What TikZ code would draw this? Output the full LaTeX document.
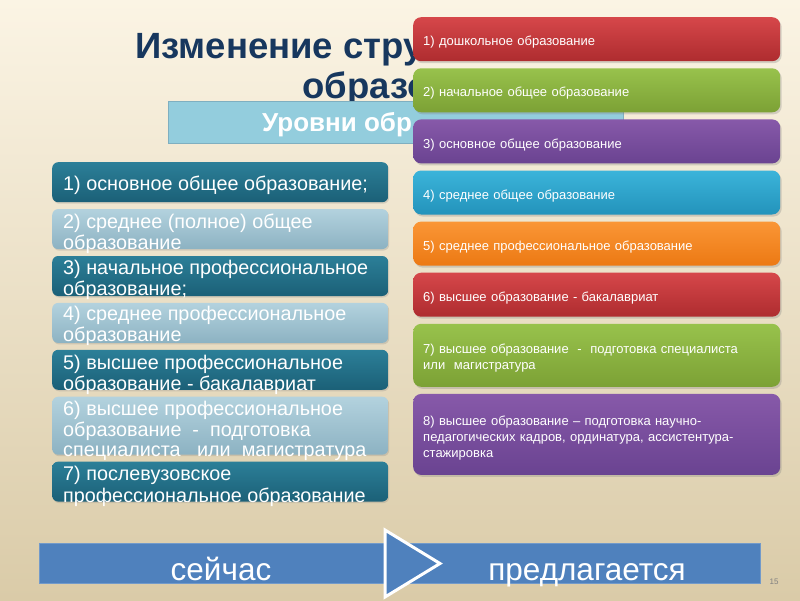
\documentclass[tikz,border=0pt]{standalone}
\usepackage{fontspec}
\setmainfont{Liberation Sans}
\usetikzlibrary{positioning,shadows}

\definecolor{bgtop}{HTML}{FBF4E4}
\definecolor{bgbot}{HTML}{DACBA8}
\definecolor{titleblue}{HTML}{17375E}
\definecolor{barblue}{HTML}{93CDDD}
\definecolor{baredge}{HTML}{7FAFC0}
\definecolor{tealtop}{HTML}{2C7F98}
\definecolor{tealbot}{HTML}{1B6077}
\definecolor{paletop}{HTML}{B3D2DE}
\definecolor{palebot}{HTML}{8CB2C2}
\definecolor{redtop}{HTML}{D6474A}
\definecolor{redbot}{HTML}{AE2C2F}
\definecolor{greentop}{HTML}{98C24C}
\definecolor{greenbot}{HTML}{7CA135}
\definecolor{violettop}{HTML}{8759A9}
\definecolor{violetbot}{HTML}{6A4391}
\definecolor{cyantop}{HTML}{3BB4DA}
\definecolor{cyanbot}{HTML}{2393BB}
\definecolor{orangetop}{HTML}{FA9636}
\definecolor{orangebot}{HTML}{EC7913}
\definecolor{footblue}{HTML}{4F81BD}

\tikzset{
  levelbox/.style={minimum width=336pt, minimum height=40pt, inner sep=0pt,
    rounded corners=6pt, drop shadow={shadow xshift=1pt, shadow yshift=-1.5pt, opacity=.25}},
  darklevel/.style={levelbox, top color=tealtop, bottom color=tealbot},
  lightlevel/.style={levelbox, top color=paletop, bottom color=palebot},
  leveltext/.style={inner sep=0pt, text=white, align=left,
    font=\fontsize{19.8}{19.5}\selectfont},
  newbox/.style={minimum width=367pt, minimum height=44pt, text width=347pt,
    inner xsep=10pt, inner ysep=0pt, align=left, rounded corners=8pt, text=white,
    font=\fontsize{13}{16}\selectfont, execute at begin node={\rule{0pt}{16pt}},
    drop shadow={shadow xshift=1.5pt, shadow yshift=-2pt, opacity=.3}},
  redbox/.style={newbox, top color=redtop, bottom color=redbot},
  greenbox/.style={newbox, top color=greentop, bottom color=greenbot},
  violetbox/.style={newbox, top color=violettop, bottom color=violetbot},
  cyanbox/.style={newbox, top color=cyantop, bottom color=cyanbot},
  orangebox/.style={newbox, top color=orangetop, bottom color=orangebot},
  titletext/.style={anchor=base west, inner sep=0pt, text=titleblue,
    font=\bfseries\fontsize{36.5}{40}\selectfont},
}

\begin{document}
\begin{tikzpicture}[x=1pt, y=-1pt]
\useasboundingbox (0,0) rectangle (800,600);
\shade[top color=bgtop, bottom color=bgbot] (0,0) rectangle (800,600);

% title and the bar under it (the right column hides their ends)
\node[titletext] (title1) at (135,58) {Изменение стру};
\node[titletext] (title2) at (302,98) {образо};
\node[fill=barblue, draw=baredge, minimum width=455pt, minimum height=42pt, inner sep=0pt] (levels) at (395.5,122) {};
\node[anchor=base west, inner sep=0pt, text=white, font=\bfseries\fontsize{26}{28}\selectfont] (levelst) at (262,131) {Уровни обр};

% now: left column
\node[darklevel, anchor=north west] (l1) at (52,162) {};
\node[lightlevel, below=6.5pt of l1] (l2) {};
\node[darklevel, below=6.5pt of l2] (l3) {};
\node[lightlevel, below=6.5pt of l3] (l4) {};
\node[darklevel, below=6.5pt of l4] (l5) {};
\node[lightlevel, minimum height=58pt, below=6.5pt of l5] (l6) {};
\node[darklevel, below=6.5pt of l6] (l7) {};

\node[leveltext, below right=13.4pt and 11pt of l1.north west] (l1t) {\strut 1) основное общее образование;};
\node[leveltext, below right=5pt and 11pt of l2.north west] (l2t) {\strut 2) среднее (полное) общее\\образование};
\node[leveltext, below right=4pt and 11pt of l3.north west] (l3t) {\strut 3) начальное профессиональное\\образование;};
\node[leveltext, below right=3pt and 11pt of l4.north west] (l4t) {\strut 4) среднее профессиональное\\образование};
\node[leveltext, below right=5pt and 11pt of l5.north west] (l5t) {\strut 5) высшее профессиональное\\образование - бакалавриат};
\node[leveltext, below right=4.5pt and 11pt of l6.north west] (l6t) {\strut 6) высшее профессиональное\\образование~~-~~подготовка\\специалиста~~~или~~магистратура};
\node[leveltext, below right=5pt and 11pt of l7.north west] (l7t) {\strut 7) послевузовское\\профессиональное образование};

% proposed: right column
\node[redbox, anchor=north west] (r1) at (413,17) {1) дошкольное образование};
\node[greenbox, below=6.7pt of r1] (r2) {2) начальное общее образование};
\node[violetbox, below=6.7pt of r2] (r3) {3) основное общее образование};
\node[cyanbox, below=6.7pt of r3] (r4) {4) среднее общее образование};
\node[orangebox, below=6.7pt of r4] (r5) {5) среднее профессиональное образование};
\node[redbox, below=6.7pt of r5] (r6) {6) высшее образование - бакалавриат};
\node[greenbox, minimum height=63pt, below=6.7pt of r6] (r7) {7) высшее образование~~-~~подготовка специалиста\\или~~магистратура};
\node[violetbox, minimum height=81pt, below=6.7pt of r7] (r8) {8) высшее образование – подготовка научно-\\педагогических кадров, ординатура, ассистентура-\\стажировка};

% footer
\node[fill=footblue, draw=footblue!80!white, minimum width=721pt, minimum height=40pt, inner sep=0pt] (foot) at (399.5,563) {};
\node[anchor=base, text=white, font=\fontsize{31.5}{34}\selectfont] (now) at (221,580) {сейчас};
\node[anchor=base, text=white, font=\fontsize{31.5}{34}\selectfont] (offered) at (587,580) {предлагается};
\draw[white, line width=3pt, fill=footblue] (385,530) -- (440,563.5) -- (385,597) -- cycle;
\node[text=black!50, font=\fontsize{8}{9}\selectfont] (page) at (774,582) {15};
\end{tikzpicture}
\end{document}
